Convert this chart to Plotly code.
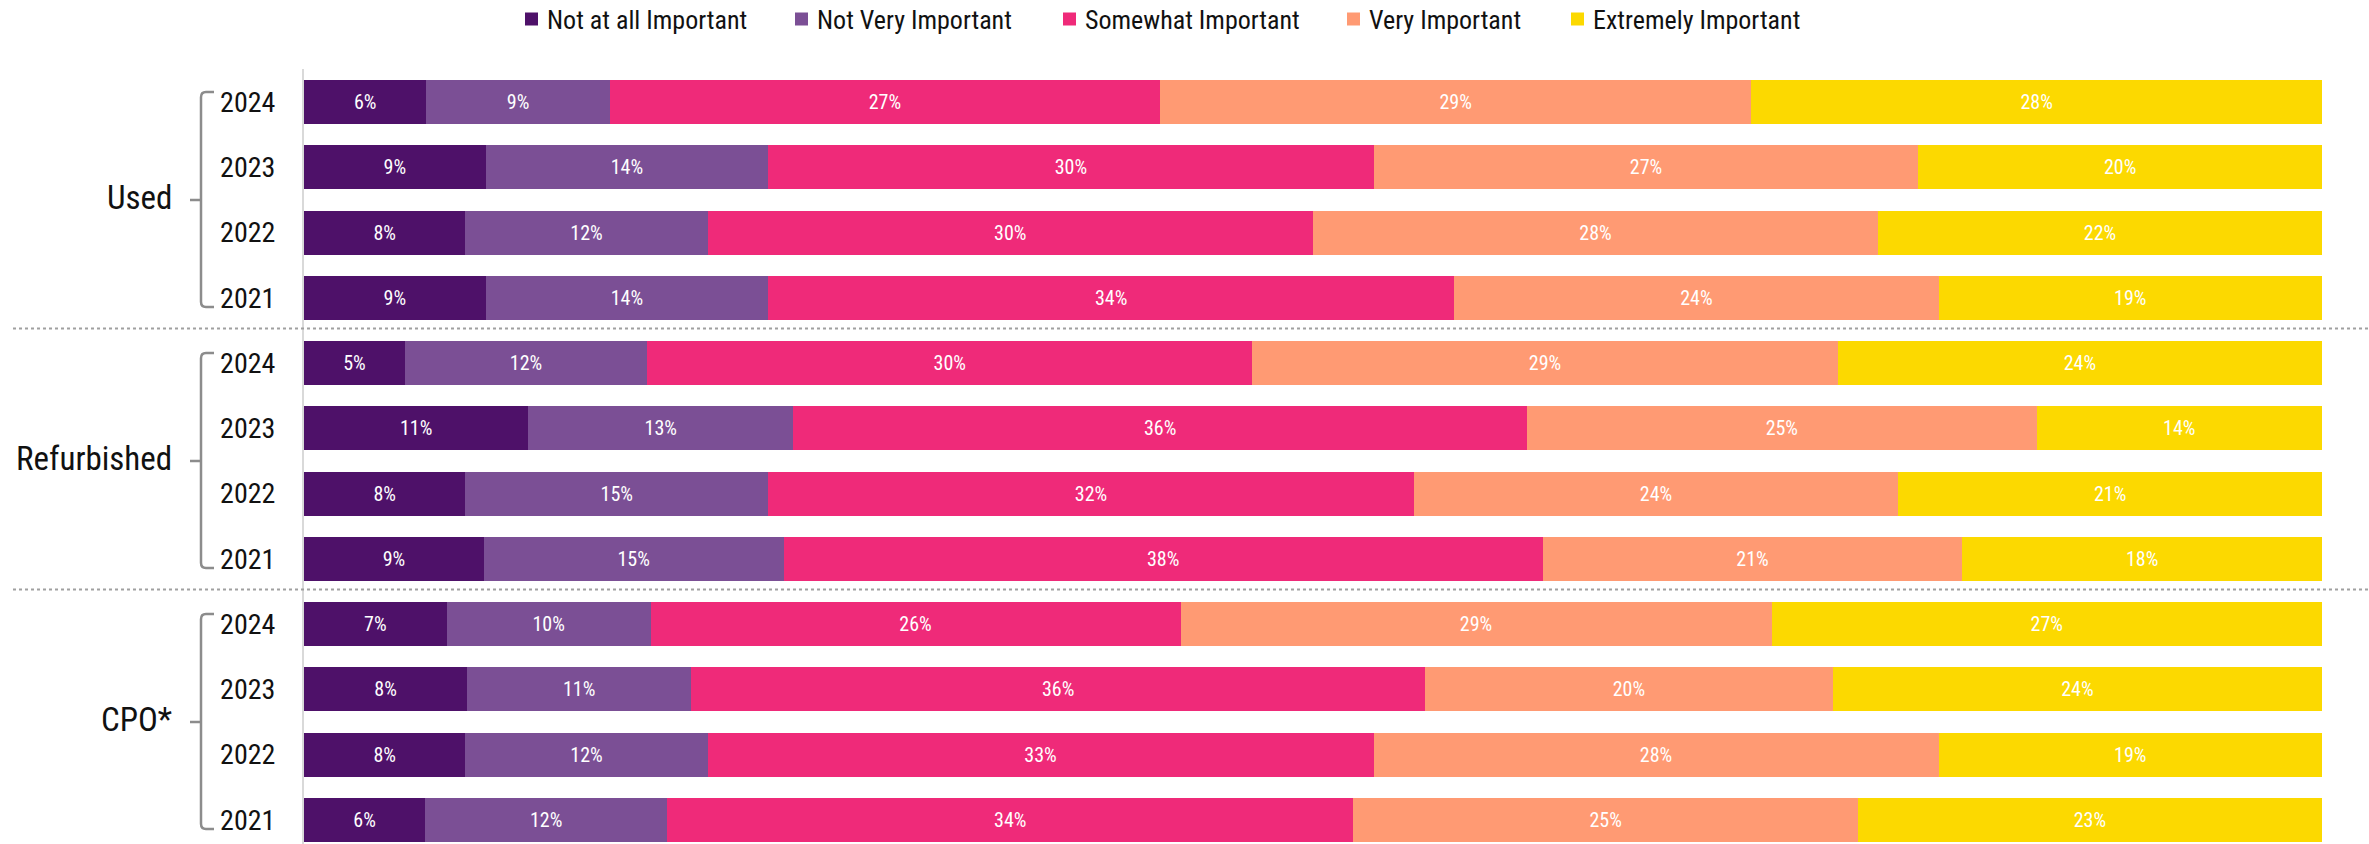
import plotly.graph_objects as go

# --- data -----------------------------------------------------------------
groups = ["Used", "Refurbished", "CPO*"]
years = ["2024", "2023", "2022", "2021"]
levels = ["Not at all Important", "Not Very Important", "Somewhat Important",
          "Very Important", "Extremely Important"]
colors = ["#4E1169", "#7B4F95", "#EF2A79", "#FF9A73", "#FCD900"]

# shares per row (group order, years 2024..2021), one list per importance level
not_at_all = [6, 9, 8, 9, 5, 11, 8, 9, 7, 8, 8, 6]
not_very = [9, 14, 12, 14, 12, 13, 15, 15, 10, 11, 12, 12]
somewhat = [27, 30, 30, 34, 30, 36, 32, 38, 26, 36, 33, 34]
very = [29, 27, 28, 24, 29, 25, 24, 21, 29, 20, 28, 25]
extremely = [28, 20, 22, 19, 24, 14, 21, 18, 27, 24, 19, 23]
series = [not_at_all, not_very, somewhat, very, extremely]

# --- layout geometry ------------------------------------------------------
W, H = 2369, 844
ML, MR, MT, MB = 304, 47, 69, 0
PW, PH = W - ML - MR, H - MT - MB
FONT = "Roboto Condensed, Liberation Sans Narrow, Arial Narrow, Roboto, sans-serif"
TXT = "#111111"

def px_to_paper(px):
    return (px - ML) / PW

def py_to_paper(py):
    return (H - MB - py) / PH

rows = list(range(len(groups) * len(years)))
row_labels = years * len(groups)

fig = go.Figure()
for name, vals, col in zip(levels, series, colors):
    fig.add_trace(go.Bar(
        name=name, x=vals, y=rows, orientation="h",
        marker=dict(color=col, line=dict(width=0)),
        width=0.674,
        text=vals, texttemplate="%{text}%",
        textposition="inside", insidetextanchor="middle", textangle=0,
        textfont=dict(color="white", size=20, family=FONT),
        hoverinfo="skip", showlegend=False,
    ))

shapes = []
annotations = []

# legend row across the top: swatch + label per importance level
legend_left = [525, 795, 1063, 1347, 1571]
legend_cy = 19
sw = 13
for name, col, lx in zip(levels, colors, legend_left):
    shapes.append(dict(type="rect", xref="paper", yref="paper",
                       x0=px_to_paper(lx), x1=px_to_paper(lx + sw),
                       y0=py_to_paper(legend_cy + sw / 2),
                       y1=py_to_paper(legend_cy - sw / 2),
                       fillcolor=col, line=dict(width=0)))
    annotations.append(dict(text=name, xref="paper", yref="paper",
                            x=px_to_paper(lx + 20), y=py_to_paper(legend_cy + 1),
                            xanchor="left", yanchor="middle", showarrow=False,
                            font=dict(size=26, color=TXT, family=FONT)))

# group brackets, group names and dotted separators
bracket_col = "#8C8C8C"
for g, gname in enumerate(groups):
    top = g * 4
    bot = top + 3
    yt, yb, ym = top - 0.155, bot + 0.14, (top + bot) / 2
    xv, xh, xm = px_to_paper(201), px_to_paper(214), px_to_paper(190)
    r = 0.08
    rx = px_to_paper(206) - xv
    path = (f"M {xh},{yt} L {xv + rx},{yt} Q {xv},{yt} {xv},{yt + r} "
            f"L {xv},{yb - r} Q {xv},{yb} {xv + rx},{yb} L {xh},{yb} "
            f"M {xv},{ym} L {xm},{ym}")
    shapes.append(dict(type="path", path=path, xref="paper", yref="y",
                       line=dict(color=bracket_col, width=2.5)))
    annotations.append(dict(text=gname, xref="paper", yref="y",
                            x=px_to_paper(174), y=ym - 0.04, xanchor="right",
                            yanchor="middle", showarrow=False,
                            font=dict(size=33, color=TXT, family=FONT)))
    if g > 0:
        ys = top - 0.53
        shapes.append(dict(type="line", xref="paper", yref="y",
                           x0=px_to_paper(13), x1=px_to_paper(W), y0=ys, y1=ys,
                           line=dict(color="#A0A0A0", width=2, dash="dot")))

fig.update_layout(
    width=W, height=H,
    margin=dict(l=ML, r=MR, t=MT, b=MB),
    paper_bgcolor="white", plot_bgcolor="white",
    barmode="stack", barnorm="percent",
    font=dict(family=FONT, color=TXT),
    shapes=shapes, annotations=annotations,
    showlegend=False,
    xaxis=dict(range=[0, 100], visible=False, fixedrange=True),
    yaxis=dict(range=[11.37, -0.506], tickvals=rows, ticktext=row_labels,
               showgrid=False, zeroline=False, showline=True,
               linecolor="#D9D9D9", linewidth=2, ticks="",
               ticklabelstandoff=21,
               tickfont=dict(size=28, family=FONT, color=TXT)),
)

fig.write_html("out.html")
